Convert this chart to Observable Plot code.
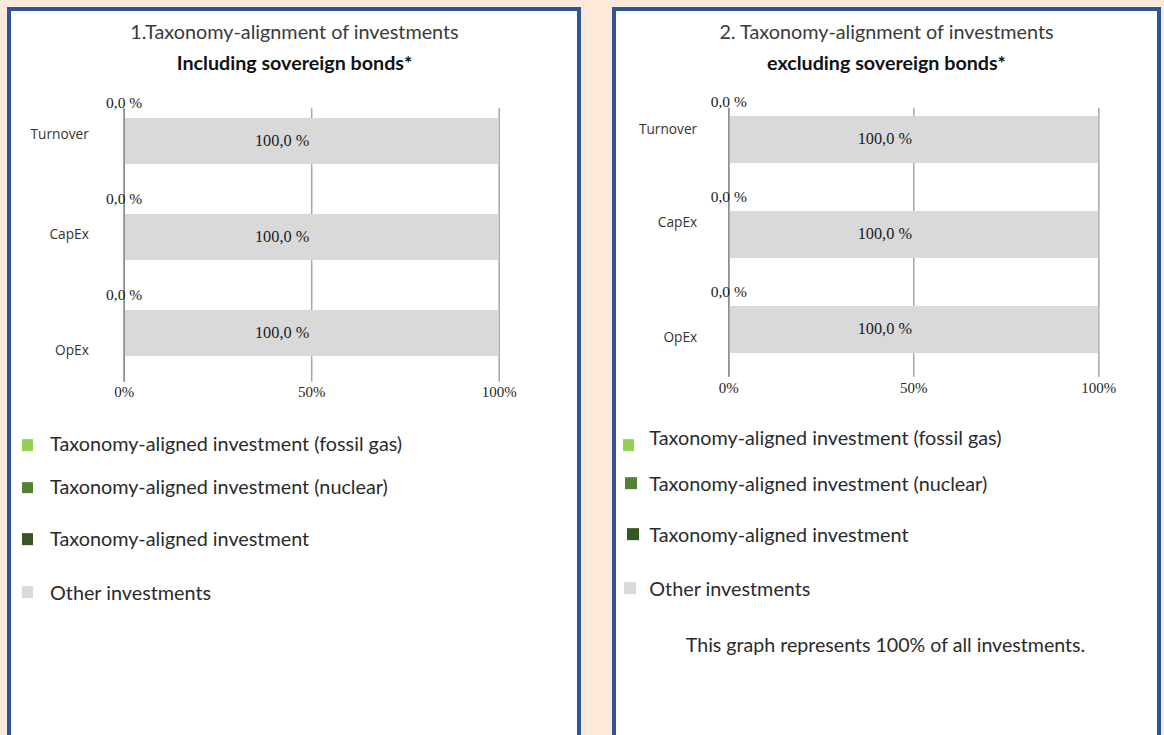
<!DOCTYPE html>
<html><head><meta charset="utf-8">
<script src="https://cdn.jsdelivr.net/npm/d3@7"></script>
<script src="https://cdn.jsdelivr.net/npm/@observablehq/plot@0.6"></script>
<style>
html,body{margin:0;padding:0;}
body{width:1164px;height:735px;overflow:hidden;background:#FDE9D9;position:relative;font-family:Lato,sans-serif;color:#333;}
.panel{position:absolute;top:7px;height:760px;border:4.3px solid #2F5597;box-sizing:border-box;background:#fff;}
.t{position:absolute;white-space:nowrap;transform:translate(-50%,-50%);line-height:1;}
.title{font-size:19.8px;color:#3a3a3a;}
.sub{font-size:19.7px;font-weight:bold;color:#111;}
.lg{position:absolute;white-space:nowrap;transform:translateY(-50%);font-size:19.8px;line-height:1;color:#2b2b2b;}
.sq{position:absolute;width:11.7px;height:11.7px;transform:translateY(-50%);}
.chart{position:absolute;top:0;}
.note{font-size:19.6px;color:#2b2b2b;}
</style></head><body>
<div class="panel" style="left:7px;width:574.3px"></div>
<div class="panel" style="left:611.7px;width:549.6px"></div>
<div id="root"></div>
<script>
// ---- data ----
const categories = ["Turnover", "CapEx", "OpEx"];
const seriesNames = [
  "Taxonomy-aligned investment (fossil gas)",
  "Taxonomy-aligned investment (nuclear)",
  "Taxonomy-aligned investment",
  "Other investments"
];
const seriesColors = ["#92D050", "#548235", "#375623", "#D9D9D9"];
const xTicks = [0, 50, 100];

// chart 1: including sovereign bonds
const inclFossilGas = [0, 0, 0];
const inclNuclear   = [0, 0, 0];
const inclAligned   = [0, 0, 0];
const inclOther     = [100, 100, 100];
// chart 2: excluding sovereign bonds
const exclFossilGas = [0, 0, 0];
const exclNuclear   = [0, 0, 0];
const exclAligned   = [0, 0, 0];
const exclOther     = [100, 100, 100];

const titles = ["1.Taxonomy-alignment of investments", "2. Taxonomy-alignment of investments"];
const subtitles = ["Including sovereign bonds*", "excluding sovereign bonds*"];
const footnote = "This graph represents 100% of all investments.";

// ---- helpers ----
const fmt = v => v.toFixed(1).replace(".", ",") + " %";
function buildRows(fg, nu, al, ot) {
  const rows = [];
  categories.forEach((c, i) => {
    [fg, nu, al, ot].forEach((arr, j) => rows.push({cat: c, series: seriesNames[j], value: arr[i]}));
  });
  return rows;
}
function buildLabels(fg, nu, al, ot) {
  return categories.map((c, i) => ({cat: c, aligned: fg[i] + nu[i] + al[i], other: ot[i]}));
}

function chart(rows, labels, L) {
  const catMarks = categories.map((c, i) =>
    Plot.text([c], {x: () => 0, y: d => d, text: d => d, textAnchor: "end", dx: L.catDx, dy: L.catDy[i],
      fontFamily: "Open Sans", fontSize: 13.7, fill: "#333"}));
  return Plot.plot({
    width: L.width, height: L.height,
    marginTop: L.mt, marginBottom: L.mb, marginLeft: 0, marginRight: 0,
    style: {background: "none", overflow: "visible"},
    x: {domain: [0, 100], range: L.xr, label: null},
    y: {domain: categories, range: L.yr, paddingInner: L.pi, paddingOuter: 0, axis: null},
    color: {domain: seriesNames, range: seriesColors},
    marks: [
      Plot.ruleX(xTicks, {stroke: "#A6A6A6", strokeWidth: 1.5}),
      Plot.barX(rows, Plot.stackX({x: "value", y: "cat", fill: "series", order: seriesNames})),
      Plot.ruleX([xTicks[0]], {stroke: "#8C8C8C", strokeWidth: 1.5}),
      Plot.axisX(xTicks, {tickSize: 0, tickPadding: L.tp, tickFormat: d => d + "%", label: null,
        fontFamily: "Liberation Serif", fontSize: 15, fill: "#262626"}),
      Plot.text(labels, {x: "aligned", y: "cat", text: d => fmt(d.aligned), dy: L.zeroDy,
        fontFamily: "Liberation Serif", fontSize: 15.5, fill: "#1a1a1a"}),
      Plot.text(labels, {x: d => d.aligned + d.other / 2, y: "cat", text: d => fmt(d.other), dx: L.valDx, dy: -1,
        fontFamily: "Liberation Serif", fontSize: 16.3, fill: "#1a1a1a"}),
      ...catMarks
    ]
  });
}

const layouts = [
  {left: 0, width: 580, height: 420, mt: 108.3, mb: 38.3, xr: [123.7, 498.7], yr: [116.7, 356.7], pi: 0.517,
   tp: 4, catDx: -35.4, catDy: [-6.7, -2.4, 16.7], zeroDy: -38.5, valDx: -29.6,
   titleX: 294.5, sqX: [21.7, 21.7, 21.7, 21.7], sqY: [445, 487.5, 539, 592], txX: 50, txY: [443.7, 487, 538.7, 592.5]},
  {left: 600, width: 564, height: 420, mt: 107.7, mb: 43.3, xr: [128.3, 498.3], yr: [116, 353.3], pi: 0.509,
   tp: 5, catDx: -31.6, catDy: [-10, -12.4, 7.6], zeroDy: -38.2, valDx: -29,
   titleX: 886.5, sqX: [622.7, 625, 627.3, 624], sqY: [445, 483, 534, 588], txX: 649.3, txY: [438, 483.7, 535.3, 589]}
];

const data = [
  [inclFossilGas, inclNuclear, inclAligned, inclOther],
  [exclFossilGas, exclNuclear, exclAligned, exclOther]
];

const root = document.getElementById("root");
layouts.forEach((L, k) => {
  const rows = buildRows(...data[k]);
  const labels = buildLabels(...data[k]);
  const wrap = document.createElement("div");
  wrap.className = "chart";
  wrap.style.left = L.left + "px";
  wrap.appendChild(chart(rows, labels, L));
  root.appendChild(wrap);

  const t = document.createElement("div");
  t.className = "t title"; t.textContent = titles[k];
  t.style.left = L.titleX + "px"; t.style.top = "32px";
  root.appendChild(t);
  const s = document.createElement("div");
  s.className = "t sub"; s.textContent = subtitles[k];
  s.style.left = L.titleX + "px"; s.style.top = "63px";
  root.appendChild(s);

  seriesNames.forEach((name, j) => {
    const sq = document.createElement("div");
    sq.className = "sq"; sq.style.background = seriesColors[j];
    sq.style.left = L.sqX[j] + "px"; sq.style.top = L.sqY[j] + "px";
    root.appendChild(sq);
    const tx = document.createElement("div");
    tx.className = "lg"; tx.textContent = name;
    tx.style.left = L.txX + "px"; tx.style.top = L.txY[j] + "px";
    root.appendChild(tx);
  });
});
const n = document.createElement("div");
n.className = "t note"; n.textContent = footnote;
n.style.left = "885.5px"; n.style.top = "645px";
root.appendChild(n);
</script>
</body></html>
